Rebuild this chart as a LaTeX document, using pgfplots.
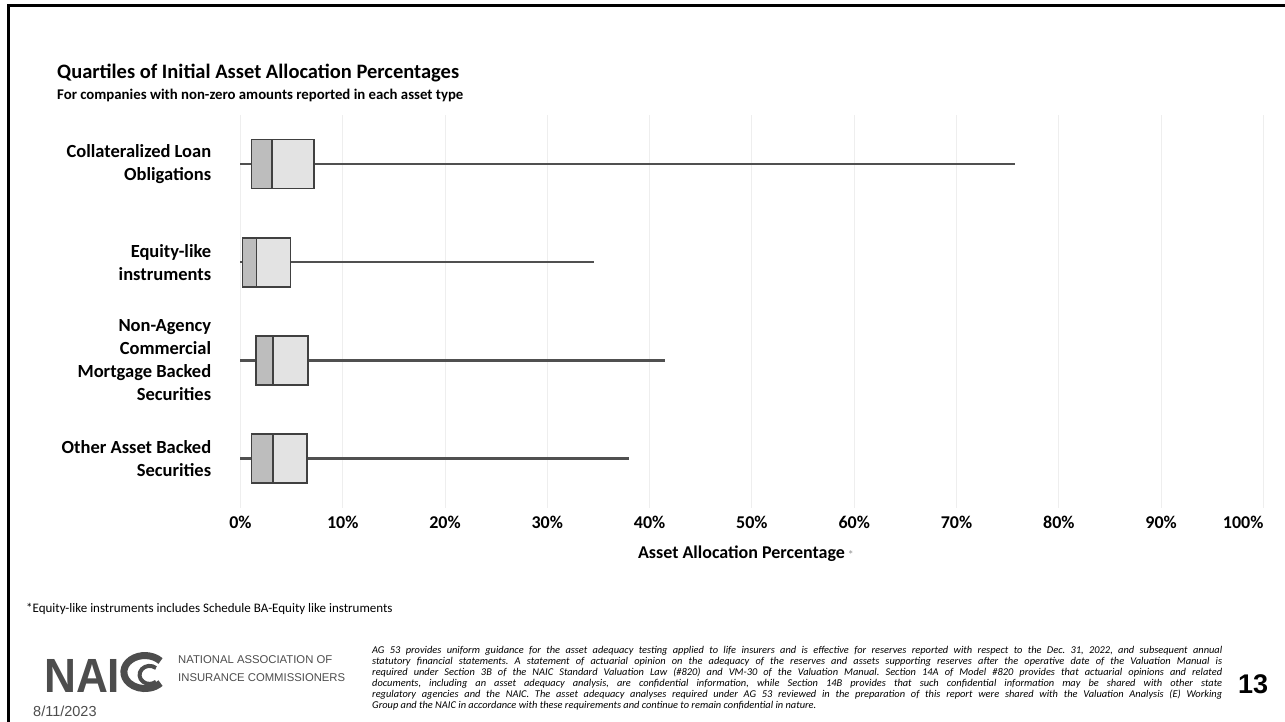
\documentclass[border=0pt]{standalone}
\usepackage{pgfplots}
\pgfplotsset{compat=1.18}
\usepackage{fontspec}
\setmainfont{Carlito}
\newfontfamily\arialf{Liberation Sans}
\definecolor{boxdark}{HTML}{BDBDBD}
\definecolor{boxlight}{HTML}{E3E3E3}
\definecolor{edgec}{HTML}{404040}
\definecolor{whisk}{HTML}{505050}
\definecolor{gridc}{HTML}{EEEEEE}
\definecolor{logoc}{HTML}{4D4D4D}
\begin{document}
\frenchspacing
\begin{tikzpicture}[x=1pt,y=1pt]
\useasboundingbox (0,0) rectangle (1285,721);
\fill[white] (0,0) rectangle (1285,721);
\draw[line width=3pt,black] (8,-2) -- (8,715.5) -- (1290,715.5);
\node[anchor=base west,inner sep=0pt,font=\bfseries\fontsize{20.5}{22}\selectfont] at (57,642) {Quartiles of Initial Asset Allocation Percentages};
\node[anchor=base west,inner sep=0pt,font=\bfseries\fontsize{14.8}{17}\selectfont] at (57,621) {For companies with non-zero amounts reported in each asset type};
\begin{axis}[
  at={(235,217.6)}, anchor=south west,
  width=1023pt, height=392.4pt, scale only axis,
  xmin=0, xmax=100, ymin=0.5, ymax=4.5,
  axis line style={draw=none}, major tick length=0pt, tick style={draw=none},
  xtick={0,10,20,30,40,50,60,70,80,90,100},
  xticklabels={0\%,10\%,20\%,30\%,40\%,50\%,60\%,70\%,80\%,90\%,\makebox[0pt][r]{100\%}},
  xmajorgrids, grid style={gridc, line width=1pt},
  ytick={1,2,3,4},
  yticklabels={{Other Asset Backed\\Securities},{Non-Agency\\Commercial\\Mortgage Backed\\Securities},{Equity-like\\instruments},{Collateralized Loan\\Obligations}},
  yticklabel style={align=right, font=\bfseries\fontsize{18.5}{23}\selectfont, inner sep=0pt, xshift=-29pt},
  xticklabel style={font=\bfseries\fontsize{18}{20}\selectfont, inner sep=0pt, yshift=-8pt, anchor=north},
  xlabel={Asset Allocation Percentage\,\textcolor{gray!70}{\fontsize{11}{11}\selectfont *}},
  xlabel style={at={(axis description cs:0.494,0)}, anchor=base, yshift=-51pt, font=\bfseries\fontsize{18}{20}\selectfont, inner sep=0pt},
  clip=false,
]
% whiskers (min to max); y: 4 = CLO, 3 = Equity-like, 2 = Non-Agency CMBS, 1 = Other ABS
\addplot[whisk, line width=2.3pt] coordinates {(0,4) (75.7,4)};
\addplot[whisk, line width=2.3pt] coordinates {(0,3) (34.6,3)};
\addplot[whisk, line width=2.3pt] coordinates {(0,2) (41.5,2)};
\addplot[whisk, line width=2.3pt] coordinates {(0,1) (38.0,1)};
% Q1 to median
\addplot[fill=boxdark, draw=edgec, line width=1.5pt, line join=miter, line cap=rect] coordinates {(1.1,3.75) (3.1,3.75) (3.1,4.25) (1.1,4.25) (1.1,3.75)};
\addplot[fill=boxdark, draw=edgec, line width=1.5pt, line join=miter, line cap=rect] coordinates {(0.2,2.75) (1.55,2.75) (1.55,3.25) (0.2,3.25) (0.2,2.75)};
\addplot[fill=boxdark, draw=edgec, line width=1.5pt, line join=miter, line cap=rect] coordinates {(1.5,1.75) (3.2,1.75) (3.2,2.25) (1.5,2.25) (1.5,1.75)};
\addplot[fill=boxdark, draw=edgec, line width=1.5pt, line join=miter, line cap=rect] coordinates {(1.1,0.75) (3.2,0.75) (3.2,1.25) (1.1,1.25) (1.1,0.75)};
% median to Q3
\addplot[fill=boxlight, draw=edgec, line width=1.5pt, line join=miter, line cap=rect] coordinates {(3.1,3.75) (7.2,3.75) (7.2,4.25) (3.1,4.25) (3.1,3.75)};
\addplot[fill=boxlight, draw=edgec, line width=1.5pt, line join=miter, line cap=rect] coordinates {(1.55,2.75) (4.9,2.75) (4.9,3.25) (1.55,3.25) (1.55,2.75)};
\addplot[fill=boxlight, draw=edgec, line width=1.5pt, line join=miter, line cap=rect] coordinates {(3.2,1.75) (6.6,1.75) (6.6,2.25) (3.2,2.25) (3.2,1.75)};
\addplot[fill=boxlight, draw=edgec, line width=1.5pt, line join=miter, line cap=rect] coordinates {(3.2,0.75) (6.5,0.75) (6.5,1.25) (3.2,1.25) (3.2,0.75)};
\end{axis}
\node[anchor=base west,inner sep=0pt,font=\fontsize{13}{14}\selectfont] at (26,109) {*Equity-like instruments includes Schedule BA-Equity like instruments};
% logo
\node[anchor=base west,inner sep=0pt,font=\arialf\bfseries\fontsize{48}{48}\selectfont,text=logoc] at (44,29) {\scalebox{0.92}[1]{NAI}};
\draw[logoc, line width=7pt] (160.5,60) arc[start angle=42, end angle=318, x radius=21, y radius=16.5];
\draw[logoc, line width=4pt] (156,53) arc[start angle=50, end angle=310, x radius=10, y radius=9];
\node[anchor=base west,inner sep=0pt,font=\arialf\fontsize{11.3}{12}\selectfont,text=logoc] at (178,58) {NATIONAL ASSOCIATION OF};
\node[anchor=base west,inner sep=0pt,font=\arialf\fontsize{11.3}{12}\selectfont,text=logoc] at (178,40) {INSURANCE COMMISSIONERS};
\node[anchor=base west,inner sep=0pt,font=\arialf\fontsize{14.5}{15}\selectfont,text=logoc] at (33,5) {8/11/2023};
% disclaimer
\node[anchor=north west,inner sep=0pt,align=left,font=\itshape\fontsize{10.4}{11.1}\selectfont] at (372,75) {%
\makebox[850pt][s]{AG 53 provides uniform guidance for the asset adequacy testing applied to life insurers and is effective for reserves reported with respect to the Dec. 31, 2022, and subsequent annual}\\
\makebox[850pt][s]{statutory financial statements. A statement of actuarial opinion on the adequacy of the reserves and assets supporting reserves after the operative date of the Valuation Manual is}\\
\makebox[850pt][s]{required under Section 3B of the NAIC Standard Valuation Law (\#820) and VM-30 of the Valuation Manual. Section 14A of Model \#820 provides that actuarial opinions and related}\\
\makebox[850pt][s]{documents, including an asset adequacy analysis, are confidential information, while Section 14B provides that such confidential information may be shared with other state}\\
\makebox[850pt][s]{regulatory agencies and the NAIC. The asset adequacy analyses required under AG 53 reviewed in the preparation of this report were shared with the Valuation Analysis (E) Working}\\
Group and the NAIC in accordance with these requirements and continue to remain confidential in nature.};
\node[anchor=base west,inner sep=0pt,font=\arialf\bfseries\fontsize{27}{28}\selectfont] at (1238,28) {13};
\end{tikzpicture}
\end{document}
